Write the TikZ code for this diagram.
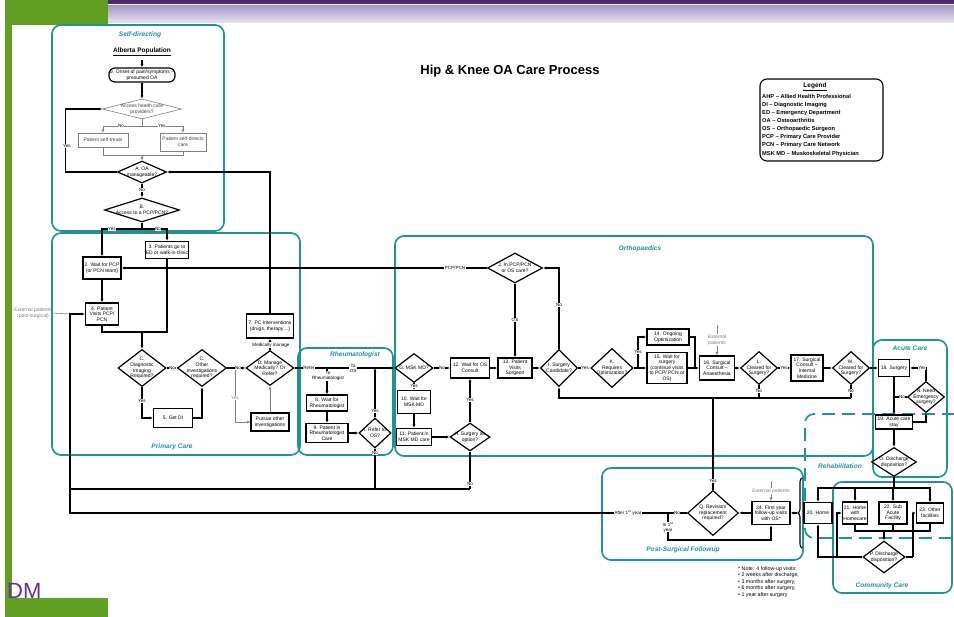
\documentclass[tikz,border=0pt]{standalone}
\usepackage{fontspec}
\setmainfont{Liberation Sans}
\usetikzlibrary{shapes.geometric,arrows.meta,decorations.pathreplacing,calc}
\definecolor{teal1}{RGB}{32,148,148}
\definecolor{grn}{RGB}{98,160,36}
\definecolor{purp}{RGB}{78,42,112}
\definecolor{lav}{RGB}{170,152,200}
\definecolor{dmcol}{RGB}{100,50,150}
\begin{document}
\begin{tikzpicture}[x=1pt,y=-1pt, >={Latex[length=3.4pt,width=3pt]},
 tx/.style={font=\fontsize{5}{5.6}\selectfont, align=center, inner sep=0.4pt},
 box/.style={tx, draw, line width=1.2pt, fill=white},
 gbox/.style={tx, draw=gray, line width=0.6pt, fill=white, text=black!75},
 dm/.style={diamond, draw, line width=1.2pt, inner sep=0pt, fill=white},
 ln/.style={line width=1.1pt},
 thk/.style={line width=1.6pt},
 gl/.style={draw=gray, line width=0.6pt},
 el/.style={font=\fontsize{4.6}{5}\selectfont, fill=white, inner sep=0.4pt, align=center},
 grp/.style={draw=teal1, line width=1.7pt, rounded corners=9pt},
 gtitle/.style={text=teal1, font=\fontsize{6.6}{7.5}\selectfont\bfseries\itshape},
]
\useasboundingbox (0,0) rectangle (954,617);
\fill[white] (0,0) rectangle (954,617);
% background decoration
\fill[grn] (5,0) rectangle (12,617);
\fill[grn] (5,0) rectangle (108,25);
\fill[grn] (5,598) rectangle (108,617);
\fill[purp] (108,0) rectangle (954,4);
\shade[top color=lav, bottom color=lav!25] (108,6) rectangle (954,23);
\node[anchor=base west, text=dmcol, font=\fontsize{22}{23}\selectfont, inner sep=0] (dmtxt) at (7,598) {DM};

% groups
\draw[grp] (52,25) rectangle (224,231);
\draw[grp] (52,233) rectangle (300,455);
\draw[grp] (298,348) rectangle (393,455);
\draw[grp] (395,236) rectangle (873,456);
\draw[grp] (873,340) rectangle (947,477);
\draw[draw=teal1, line width=1.7pt, dash pattern=on 13pt off 7pt, rounded corners=9pt] (975,414) -- (805,414) -- (805,538) -- (975,538);
\draw[grp] (602,468) rectangle (803,560);
\draw[grp] (833,482) rectangle (952,593);
\node[gtitle] (tsd) at (140,35) {Self-directing};
\node[gtitle] (tpc) at (172,447) {Primary Care};
\node[gtitle] (trh) at (355,355) {Rheumatologist};
\node[gtitle] (tor) at (640,249) {Orthopaedics};
\node[gtitle] (tac) at (910,348) {Acute Care};
\node[gtitle] (tre) at (840,466) {Rehabilitation};
\node[gtitle] (tps) at (683,550) {Post-Surgical Followup};
\node[gtitle] (tcc) at (882,586) {Community Care};

% title and legend
\node[font=\fontsize{13}{14}\selectfont\bfseries] (title) at (510,71) {Hip \& Knee OA Care Process};
\draw[line width=1.1pt, rounded corners=7pt] (760,79) rectangle (883,161);
\node[font=\fontsize{6.5}{7}\selectfont\bfseries] (lg) at (815,87) {\underline{Legend}};
\node[anchor=north west, align=left, font=\fontsize{5.7}{8.1}\selectfont\bfseries, inner sep=0] (lgt) at (762,94) {AHP – Allied Health Professional\\DI – Diagnostic Imaging\\ED – Emergency Department\\OA – Osteoarthritis\\OS – Orthopaedic Surgeon\\PCP – Primary Care Provider\\PCN – Primary Care Network\\MSK MD – Muskoskeletal Physician};
\node[anchor=north west, align=left, font=\fontsize{5.3}{6.5}\selectfont, inner sep=0] (note) at (738,566) {* Note: 4 follow-up visits:\\• 2 weeks after discharge,\\• 3 months after surgery,\\• 6 months after surgery,\\• 1 year after surgery};

% self-directing nodes
\node[font=\fontsize{6.5}{7}\selectfont\bfseries] (ap) at (142,52) {\underline{Alberta Population}};
\node[box, rounded corners=6pt, minimum width=66, minimum height=14] (n0) at (142,75) {0. Onset of pain/symptoms –\\presumed OA};
\node[dm, draw=gray, line width=0.6pt, minimum width=79, minimum height=20] (dac) at (142,109) {};
\node[tx, text=black!75] (dact) at (dac) {Access health care\\providers?};
\node[gbox, minimum width=50, minimum height=14] (selfT) at (103,140) {Patient self-treats};
\node[gbox, minimum width=46, minimum height=18] (selfD) at (183,142) {Patient self-directs\\care};
\node[dm, minimum width=49, minimum height=22] (dA) at (142,172) {};
\node[tx] (dAt) at (dA) {A. OA\\manageable?};
\node[dm, minimum width=75, minimum height=24] (dB) at (142,210) {};
\node[tx] (dBt) at (dB) {B.\\Access to a PCP/PCN?};

% primary care nodes
\node[box, minimum width=38, minimum height=22] (n2) at (102,268) {2. Wait for PCP\\(or PCN team)};
\node[box, minimum width=43, minimum height=17] (n3) at (167,250) {3. Patients go to\\ED or walk-in clinic};
\node[box, minimum width=33, minimum height=22] (n4) at (102,314) {4. Patient\\Visits PCP/\\PCN};
\node[dm, minimum width=48, minimum height=37] (dC) at (142,368) {};
\node[tx] (dCt) at (dC) {C.\\Diagnostic\\Imaging\\Required?};
\node[dm, minimum width=49, minimum height=37] (dC2) at (202,368) {};
\node[tx] (dC2t) at (dC2) {C.\\Other\\investigations\\required?};
\node[box, minimum width=39, minimum height=19] (n5) at (173,418) {5. Get DI};
\node[dm, minimum width=48, minimum height=35] (dD) at (270,368) {};
\node[tx] (dDt) at (dD) {D. Manage\\Medically? Or\\Refer?};
\node[box, minimum width=38, minimum height=18] (pursue) at (270,422) {Pursue other\\investigations};
\node[box, minimum width=47, minimum height=24] (n7) at (270,326) {7. PC Interventions\\(drugs, therapy…)};
\node[tx, text=gray] (ext1) at (33,313) {External patients\\(post-surgical)};

% rheumatologist nodes
\node[box, minimum width=41, minimum height=16] (n8) at (327,403) {8. Wait for\\Rheumatologist};
\node[box, minimum width=42, minimum height=19] (n9) at (327,433) {9. Patient in\\Rheumatologist\\Care};
\node[dm, minimum width=32, minimum height=30] (dR) at (375,433) {};
\node[tx] (dRt) at (dR) {I. Refer to\\OS?};

% orthopaedics nodes
\node[dm, minimum width=38, minimum height=29] (dG) at (414,368) {};
\node[tx] (dGt) at (dG) {G. MSK MD?};
\node[box, minimum width=33, minimum height=23] (n10) at (414,402) {10. Wait for\\MSK MD};
\node[box, minimum width=35, minimum height=17] (n11) at (414,437) {11. Patient in\\MSK MD care};
\node[dm, minimum width=40, minimum height=28] (dH) at (470,437) {};
\node[tx] (dHt) at (dH) {H. Surgery an\\option?};
\node[box, minimum width=39, minimum height=20] (n12) at (470,368) {12. Wait for OS\\Consult};
\node[box, minimum width=34, minimum height=20] (n13) at (515,368) {13. Patient\\Visits\\Surgeon};
\node[dm, minimum width=37, minimum height=37] (dI) at (559,368) {};
\node[tx] (dIt) at (dI) {I. Surgery\\Candidate?};
\node[dm, minimum width=55, minimum height=30] (dJ) at (515,268) {};
\node[tx] (dJt) at (dJ) {J. In PCP/PCN\\or OS care?};
\node[dm, minimum width=42, minimum height=39] (dK) at (612,368) {};
\node[tx] (dKt) at (dK) {K.\\Requires\\Optimization?};
\node[box, minimum width=42, minimum height=16] (n14) at (668,337) {14. Ongoing\\Optimization};
\node[box, minimum width=40, minimum height=31] (n15) at (667,368) {15. Wait for\\surgery\\(continue visits\\to PCP/ PCN or\\OS)};
\node[box, minimum width=35, minimum height=24] (n16) at (717,368) {16. Surgical\\Consult –\\Anaesthesia};
\node[tx, text=gray] (ext2) at (717,340) {External\\patients};
\node[dm, minimum width=37, minimum height=33] (dL) at (759,368) {};
\node[tx] (dLt) at (dL) {L.\\Cleared for\\Surgery?};
\node[box, minimum width=32, minimum height=26] (n17) at (807,368) {17. Surgical\\Consult –\\Internal\\Medicine};
\node[dm, minimum width=37, minimum height=33] (dM) at (851,368) {};
\node[tx] (dMt) at (dM) {M.\\Cleared for\\Surgery?};

% acute care
\node[box, minimum width=31, minimum height=17] (n18) at (894,368) {18. Surgery};
\node[dm, minimum width=37, minimum height=31] (dN) at (926,397) {};
\node[tx] (dNt) at (dN) {N. Need\\Emergency\\surgery?};
\node[box, minimum width=37, minimum height=14] (n19) at (894,422) {19. Acute care\\stay};
\node[dm, minimum width=45, minimum height=29] (dO) at (894,462) {};
\node[tx] (dOt) at (dO) {O. Discharge\\disposition?};

% post-surgical and community
\node[dm, minimum width=51, minimum height=45] (dQ) at (713,513) {};
\node[tx] (dQt) at (dQ) {Q. Revision/\\replacement\\required?};
\node[box, minimum width=38, minimum height=23] (n24) at (771,513) {24. First year\\follow-up visits\\with OS*};
\node[tx, text=gray] (ext3) at (771,491) {External patients};
\node[box, minimum width=28, minimum height=21] (n20) at (818,513) {20. Home};
\node[box, minimum width=25, minimum height=22] (n21) at (855,513) {21. Home\\with\\Homecare};
\node[box, minimum width=28, minimum height=22] (n22) at (893,513) {22. Sub\\Acute\\Facility};
\node[box, minimum width=27, minimum height=20] (n23) at (930,513) {23. Other\\facilities};
\node[dm, minimum width=42, minimum height=32] (dP) at (884,557) {};
\node[tx] (dPt) at (dP) {P. Discharge\\disposition?};

% coordinates
\coordinate (c1) at (142,126);
\coordinate (c2) at (142,155);
\coordinate (c3) at (142,229);
\coordinate (jc) at (142,332);
\coordinate (gp) at (235,368);
\coordinate (rb) at (327,368);
\coordinate (lb1) at (70,489);
\coordinate (lb2) at (70,513);
\coordinate (ny) at (668,513);
\coordinate (ny2) at (668,540);
\coordinate (kb) at (638,368);
\coordinate (kb2) at (695,368);
\coordinate (rl) at (559,398);
\coordinate (ob) at (894,488);
\coordinate (pb) at (884,531);
\coordinate (br) at (797,513);
\coordinate (pl) at (837,557);
\coordinate (pr) at (913,557);

% connectors: self-directing
\draw[ln,->] (ap) -- (n0);
\draw[ln,->] (n0) -- (dac);
\draw[gl] (dac.south) -- (c1);
\draw[gl,->] (c1) -| (selfT.north);
\draw[gl,->] (c1) -| (selfD.north);
\draw[gl] (selfT.south) |- (c2);
\draw[gl] (selfD.south) |- (c2);
\draw[gl,->] (c2) -- (dA.north);
\draw[ln,->] (dA.west) -- ++(-51,0) |- (dac.west);
\draw[ln,->] (dA) -- (dB);
\draw[ln] (dB.south) -- (c3);
\draw[ln,->] (c3) -| (n2.north);
\draw[ln,->] (c3) -| (n3.north);
% primary care
\draw[ln,->] (n2) -- (n4);
\draw[ln] (n4.south) |- (jc) -| (n3.south);
\draw[ln,->] (jc) -- (dC.north);
\draw[ln,->] (dC) -- (dC2);
\draw[ln,->] (dC.south) |- (n5.west);
\draw[ln,->] (n5.east) -| (dC2.south);
\draw[ln,->] (dC2) -- (dD);
\draw[gl,->] (gp) |- (pursue.west);
\draw[gl,->] (pursue) -- (dD);
\draw[ln,->] (dD) -- (n7);
\draw[ln,->] (n7.north) |- (dA.east);
\draw[gl] (ext1.east) -- (n4.west -| lb2);
% refer line and rheumatology
\draw[ln,->] (dD) -- (dG);
\draw[ln,->] (rb) -- (n8);
\draw[ln,->] (n8) -- (n9);
\draw[ln,->] (n9) -- (dR);
\draw[ln,->] (dR.north) -- (dR.north |- rb);
\draw[ln] (dR.south) -- (dR.south |- lb1);
% orthopaedics
\draw[ln,->] (dG) -- (n12);
\draw[ln,->] (n12) -- (n13);
\draw[ln,->] (n13) -- (dI);
\draw[ln,->] (dI) -- (dK);
\draw[ln,->] (dI.north) |- (dJ.east);
\draw[ln,->] (dJ) -- (n13);
\draw[ln,->] (dJ.west) -- (n2.east);
\fill (n3.south |- dJ.west) circle (1.4);
\draw[ln,->] (dG) -- (n10);
\draw[ln,->] (n10) -- (n11);
\draw[ln,->] (n11) -- (dH);
\draw[ln,->] (dH) -- (n12);
\draw[ln] (dH.south) -- (dH.south |- lb1);
\draw[thk] (lb1) -- (dH.south |- lb1);
\draw[thk,->] (dQ.west) -- (lb2) |- (n4.west);
\draw[ln,->] (ny) -- (ny2) -| (n24.south);
\draw[ln] (dK.east) -- (kb);
\draw[ln,->] (kb) |- (n14.west);
\draw[ln,->] (kb) -- (n15.west);
\draw[ln] (n14.east) -| (kb2);
\draw[ln,->] (n15) -- (n16);
\draw[gl] (717,325) -- (ext2.north);
\draw[gl,->] (ext2.south) -- (n16.north);
\draw[ln,->] (n16) -- (dL);
\draw[ln,->] (dL) -- (n17);
\draw[ln,->] (n17) -- (dM);
\draw[ln,->] (dM) -- (n18);
\draw[ln] (dL.south) -- (dL.south |- rl);
\draw[ln] (dM.south) -- (dM.south |- rl);
\draw[thk,->] (dM.south |- rl) -- (rl) -- (dI.south);
\draw[ln] (dQ.north) -- (dQ.north |- rl);
% acute care
\draw[ln,->] (dN.north) |- (n18.east);
\draw[ln] (dN.west) -- (n18.south |- dN.west);
\draw[ln,->] (n18) -- (n19);
\draw[ln,->] (n19.east) -| (dN.south);
\draw[ln,->] (n19) -- (dO);
% community
\draw[ln] (dO.south) -- (ob);
\draw[ln,->] (ob) -| (n20.north);
\draw[ln,->] (ob) -| (n21.north);
\draw[ln,->] (ob) -| (n22.north);
\draw[ln,->] (ob) -| (n23.north);
\draw[ln] (n21.south) |- (pb);
\draw[ln] (n23.south) |- (pb);
\draw[ln] (n22.south) -- (n22.south |- pb);
\draw[ln,->] (pb) -- (dP.north);
\draw[ln,->] (dP.west) -| (n20.south);
\draw[ln,->] (pl) |- (n21.west);
\draw[ln] (dP.east) -- (pr);
\draw[ln,->] (pr) |- (n23.west);
\draw[ln,decorate,decoration={brace,amplitude=4pt}] (802,548) -- (802,478);
\draw[ln,->] (br) -- (n24.east);
\draw[gl] (771,481) -- (ext3.north);
\draw[gl,->] (ext3) -- (n24);
\draw[ln,->] (n24) -- (dQ);

% edge labels
\node[el] (l1) at (121,126) {No};
\node[el] (l2) at (162,126) {Yes};
\node[el] (l3) at (67,146) {Yes};
\node[el] (l4) at (142,190) {No};
\node[el] (l5) at (112,229) {Yes};
\node[el] (l6) at (158,229) {No};
\node[el] (l7) at (172,368) {No};
\node[el] (l8) at (142,401) {Yes};
\node[el] (l9) at (238,368) {No};
\node[el, text=gray] (l10) at (235,398) {Yes};
\node[el] (l11) at (271,345) {Medically manage};
\node[el] (l12) at (309,368) {Refer};
\node[el] (l13) at (328,376) {To\\Rheumatologist};
\node[el] (l14) at (353,368) {To\\OS};
\node[el] (l15) at (375,411) {Yes};
\node[el] (l16) at (375,453) {No};
\node[el] (l17) at (442,368) {No};
\node[el] (l18) at (414,386) {Yes};
\node[el] (l19) at (470,400) {Yes};
\node[el] (l20) at (470,484) {No};
\node[el] (l21) at (455,268) {PCP/PCN};
\node[el] (l22) at (515,320) {OS};
\node[el] (l23) at (559,305) {No};
\node[el] (l24) at (585,368) {Yes};
\node[el] (l25) at (638,352) {Yes};
\node[el] (l26) at (784,368) {Yes};
\node[el] (l27) at (759,391) {No};
\node[el] (l28) at (851,391) {No};
\node[el] (l29) at (713,481) {Yes};
\node[el] (l30) at (922,368) {Yes};
\node[el] (l31) at (902,397) {No};
\node[el] (l32) at (677,513) {No};
\node[el] (l33) at (628,513) {After 1\textsuperscript{st} year};
\node[el] (l34) at (668,527) {In 1\textsuperscript{st}\\year};
\end{tikzpicture}
\end{document}
